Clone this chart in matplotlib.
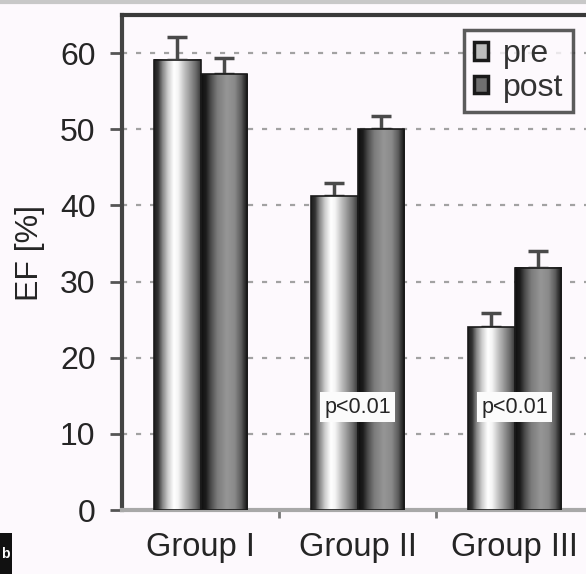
import matplotlib.pyplot as plt
import numpy as np
from matplotlib.colors import LinearSegmentedColormap
from matplotlib.patches import Rectangle

groups = ["Group I", "Group II", "Group III"]
pre = [59.1, 41.2, 24.0]
post = [57.2, 50.0, 31.8]
pre_err = [3.0, 1.8, 1.9]
post_err = [2.2, 1.7, 2.2]
p_labels = ["", "p<0.01", "p<0.01"]
yticks = [0, 10, 20, 30, 40, 50, 60]

plt.rcParams['font.family'] = ['Liberation Sans', 'DejaVu Sans']

BG = "#fdf9fd"
TXT = "#252525"

# horizontal shading profiles that give the bars a cylinder look
pre_cmap = LinearSegmentedColormap.from_list("pre", [
    (0.0, "#1e1e1e"), (0.08, "#333333"), (0.18, "#8a8a8a"), (0.30, "#cfcfcf"),
    (0.42, "#ffffff"), (0.52, "#f4f4f4"), (0.64, "#c4c4c4"), (0.78, "#959595"),
    (0.90, "#6a6a6a"), (1.0, "#3c3c3c")])
post_cmap = LinearSegmentedColormap.from_list("post", [
    (0.0, "#101010"), (0.10, "#1c1c1c"), (0.20, "#4a4a4a"), (0.35, "#7c7c7c"),
    (0.55, "#969696"), (0.72, "#8a8a8a"), (0.86, "#5e5e5e"), (0.95, "#2a2a2a"),
    (1.0, "#222222")])

fig = plt.figure(figsize=(5.86, 5.74), dpi=100, facecolor=BG)
ax = fig.add_axes([122 / 586, 64 / 574, 471 / 586, 495 / 574])
ax.set_facecolor(BG)

x = np.arange(len(groups))
w = 0.295
grad = np.linspace(0, 1, 64).reshape(1, -1)


def shaded_bars(xs, vals, errs, cmap):
    for xc, v, e in zip(xs, vals, errs):
        x0, x1 = xc - w / 2, xc + w / 2
        ax.imshow(grad, cmap=cmap, aspect='auto', extent=(x0, x1, 0, v),
                  zorder=3, interpolation='bilinear')
        ax.add_patch(Rectangle((x0, 0), w, v, fill=False, ec="#1a1a1a",
                               lw=1.2, zorder=4))
        ax.errorbar(xc, v, yerr=[[0], [e]], fmt='none', ecolor="#4a4a4a",
                    elinewidth=2.5, capsize=7, capthick=2.5, zorder=2)


shaded_bars(x - w / 2, pre, pre_err, pre_cmap)
shaded_bars(x + w / 2, post, post_err, post_cmap)
ax.set_xlim(-0.5, 2.5)
ax.set_ylim(0, 65)

for yv in yticks[1:]:
    ax.axhline(yv, color="#a2a2a2", lw=1.6, ls=(0, (2.3, 4)), zorder=1)

for xc, lab in zip(x, p_labels):
    if lab:
        ax.text(xc, 13.5, lab, ha='center', va='center', fontsize=15.5,
                color=TXT, zorder=6,
                bbox=dict(boxstyle='square,pad=0.2', fc="#fbfbfb", ec='none'))

ax.set_yticks(yticks)
ax.set_yticklabels([str(t) for t in yticks], fontsize=23, color=TXT)
ax.set_xticks([0.5, 1.5])
ax.set_xticklabels(["", ""])
ax.tick_params(axis='x', length=6, width=2, color="#777777")
ax.tick_params(axis='y', length=9, width=2, color="#555555", pad=10)
for xc, g in zip(x, groups):
    ax.text(xc, -2.9, g, ha='center', va='top', fontsize=23.5, color=TXT)

ax.set_ylabel("EF [%]", fontsize=23, color=TXT)
ax.yaxis.set_label_coords(-0.163, 0.519)

ax.spines['left'].set_color("#444444")
ax.spines['left'].set_linewidth(3)
ax.spines['top'].set_color("#3a3a3a")
ax.spines['top'].set_linewidth(3)
ax.spines['bottom'].set_color("#a8a8a8")
ax.spines['bottom'].set_linewidth(3)
ax.spines['right'].set_visible(False)

# legend built from small shaded squares
leg = ax.legend(handles=[
    Rectangle((0, 0), 1, 1, fc="#bdbdbd", ec="#1a1a1a", lw=2.5),
    Rectangle((0, 0), 1, 1, fc="#707070", ec="#1a1a1a", lw=2.5)],
    labels=["pre", "post"], loc='upper right', bbox_to_anchor=(0.957, 0.970),
    fontsize=23, frameon=True, fancybox=False, handlelength=0.45,
    handleheight=0.45, handletextpad=0.45, borderpad=0.3, labelspacing=0.1,
    borderaxespad=0)
leg.get_frame().set_edgecolor("#333333")
leg.get_frame().set_linewidth(2.5)
leg.get_frame().set_facecolor(BG)
for t in leg.get_texts():
    t.set_color("#333333")

# panel tag at the lower left corner
fig.add_artist(Rectangle((0, 0), 12 / 586, 41 / 574, fc="#111111", ec='none',
                         transform=fig.transFigure))
fig.text(1 / 586, 20 / 574, "b", fontsize=10, color="white",
         fontweight='bold', ha='left', va='center')

fig.add_artist(plt.Line2D([0, 1], [0.997, 0.997], color="#c8c8c8", lw=3,
                          transform=fig.transFigure))

fig.savefig("out.png", dpi=100, facecolor=BG)
